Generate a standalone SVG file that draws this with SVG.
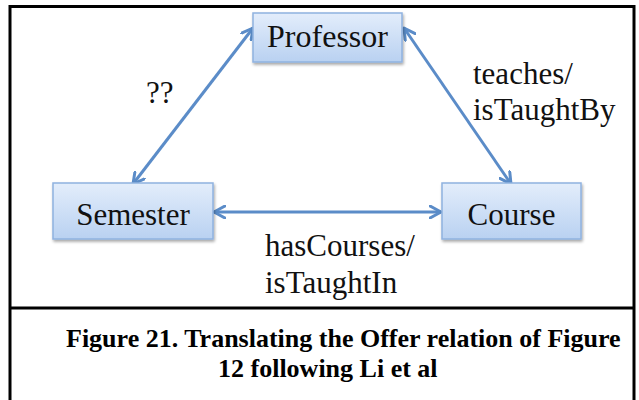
<svg xmlns="http://www.w3.org/2000/svg" width="639" height="400" viewBox="0 0 639 400">
<defs>
<linearGradient id="nodeFill" x1="0" y1="0" x2="0" y2="1">
<stop offset="0" stop-color="#e3edfb"/>
<stop offset="1" stop-color="#b9d1f1"/>
</linearGradient>
<filter id="shadow" x="-10%" y="-10%" width="130%" height="140%">
<feGaussianBlur in="SourceAlpha" stdDeviation="1.5"/>
<feOffset dx="1" dy="2" result="b"/>
<feComponentTransfer><feFuncA type="linear" slope="0.35"/></feComponentTransfer>
<feMerge><feMergeNode/><feMergeNode in="SourceGraphic"/></feMerge>
</filter>
<marker id="arr" viewBox="0 0 14 14" refX="12" refY="7" markerWidth="14" markerHeight="14" markerUnits="userSpaceOnUse" orient="auto-start-reverse">
<path d="M1,1 L12,7 L1,13" fill="none" stroke="#5b8cc8" stroke-width="3" stroke-linecap="round" stroke-linejoin="round"/>
</marker>
</defs>
<style>
.node rect{fill:url(#nodeFill);stroke:#8fb2df;stroke-width:1.5;filter:url(#shadow)}
.node text{font-family:"Liberation Serif","Times New Roman",serif;font-size:31px;fill:#111;text-anchor:middle}
.lbl{font-family:"Liberation Serif","Times New Roman",serif;font-size:31px;fill:#111}
.edge{stroke:#5b8cc8;stroke-width:3;fill:none;marker-start:url(#arr);marker-end:url(#arr)}
.frame{stroke:#000;stroke-width:3;fill:none}
.cap{font-family:"Liberation Serif","Times New Roman",serif;font-size:26px;font-weight:bold;fill:#000}
</style>
<rect width="639" height="400" fill="#fff"/>
<g id="frame">
<path class="frame" d="M10,400 V6.5 H634 V400"/>
<line class="frame" x1="10" y1="308" x2="634" y2="308"/>
</g>
<g id="connectors">
<line class="edge" x1="253" y1="28" x2="133" y2="184"/>
<line class="edge" x1="404" y1="28" x2="511" y2="184"/>
<line class="edge" x1="214" y1="212" x2="441" y2="212"/>
</g>
<g id="labels">
<text class="lbl" x="146" y="103">??</text>
<text class="lbl" x="473" y="84">teaches/</text>
<text class="lbl" x="473" y="120">isTaughtBy</text>
<text class="lbl" x="265" y="256">hasCourses/</text>
<text class="lbl" x="265" y="293">isTaughtIn</text>
</g>
<g id="node-professor" class="node">
<rect x="253" y="13" width="149" height="49"/>
<text x="327.5" y="47" style="font-size:32px">Professor</text>
</g>
<g id="node-semester" class="node">
<rect x="53" y="183" width="160" height="56"/>
<text x="133" y="225">Semester</text>
</g>
<g id="node-course" class="node">
<rect x="442" y="183" width="139" height="56"/>
<text x="511.5" y="225">Course</text>
</g>
<g id="caption">
<text class="cap" x="66" y="347">Figure 21. Translating the Offer relation of Figure</text>
<text class="cap" x="218" y="377">12 following Li et al</text>
</g>
</svg>
